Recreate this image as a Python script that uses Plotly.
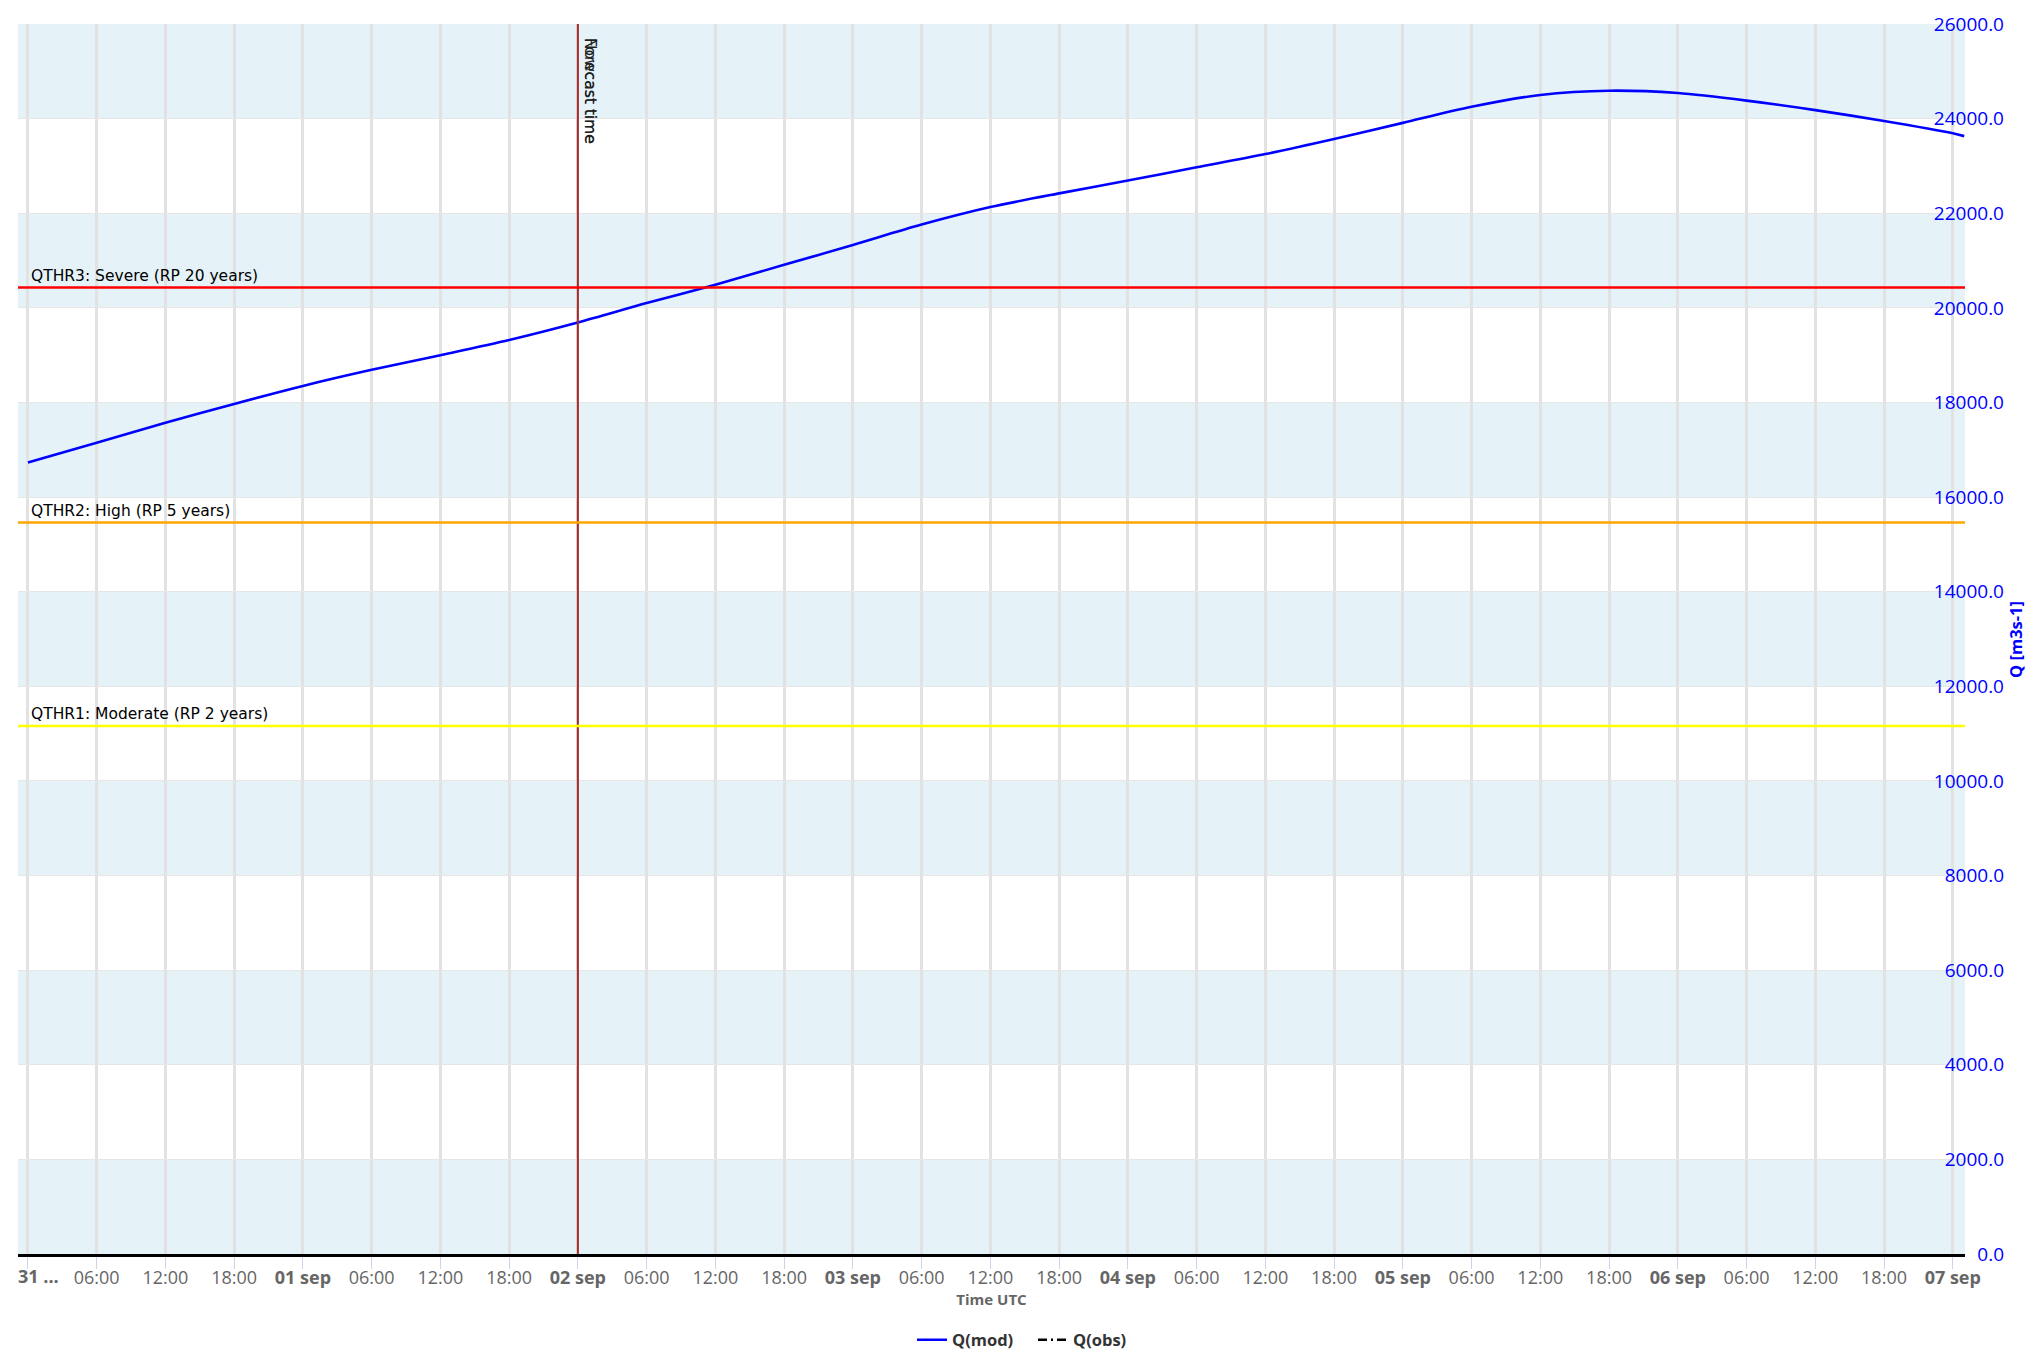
import plotly.graph_objects as go
import pandas as pd

# modelled discharge Q(mod), 6-hourly
TIMES = [
    "2024-08-31 00:00", "2024-08-31 06:00", "2024-08-31 12:00", "2024-08-31 18:00",
    "2024-09-01 00:00", "2024-09-01 06:00", "2024-09-01 12:00", "2024-09-01 18:00",
    "2024-09-02 00:00", "2024-09-02 06:00", "2024-09-02 12:00", "2024-09-02 18:00",
    "2024-09-03 00:00", "2024-09-03 06:00", "2024-09-03 12:00", "2024-09-03 18:00",
    "2024-09-04 00:00", "2024-09-04 06:00", "2024-09-04 12:00", "2024-09-04 18:00",
    "2024-09-05 00:00", "2024-09-05 06:00", "2024-09-05 12:00", "2024-09-05 18:00",
    "2024-09-06 00:00", "2024-09-06 06:00", "2024-09-06 12:00", "2024-09-06 18:00",
    "2024-09-07 00:00", "2024-09-07 01:00",
]
Q_MOD = [
    16730, 17150, 17570, 17970,
    18350, 18690, 19000, 19320,
    19690, 20100, 20490, 20910,
    21330, 21760, 22130, 22420,
    22690, 22970, 23250, 23570,
    23910, 24250, 24500, 24590,
    24540, 24380, 24180, 23950,
    23690, 23630,
]

# return-period thresholds
THR_NAMES = ["QTHR3: Severe (RP 20 years)", "QTHR2: High (RP 5 years)", "QTHR1: Moderate (RP 2 years)"]
THR_VALUES = [20430, 15460, 11160]
THR_COLORS = ["#ff0000", "#ffa500", "#ffff00"]

NOWCAST = "2024-09-02 00:00"
X_RANGE = ["2024-08-30 23:08", "2024-09-07 01:04"]

DAY_LABELS = ["31 ...", "01 sep", "02 sep", "03 sep", "04 sep", "05 sep", "06 sep", "07 sep"]
HOUR_LABELS = ["06:00", "12:00", "18:00"]
TICK_TIMES = pd.date_range("2024-08-31 00:00", "2024-09-07 00:00", freq="6h")
Y_TICKS = list(range(0, 26001, 2000))
BAND_STARTS = list(range(0, 26000, 4000))

# first label is drawn separately (nudged right, like the original)
ticktext = [""] + HOUR_LABELS
for d in DAY_LABELS[1:-1]:
    ticktext += [f"<b>{d}</b>"] + HOUR_LABELS
ticktext.append(f"<b>{DAY_LABELS[-1]}</b>")

fig = go.Figure()
fig.add_trace(go.Scatter(
    x=TIMES, y=Q_MOD, mode="lines", name="<b>Q(mod)</b>",
    line=dict(color="#0000ff", width=2.6, shape="spline", smoothing=0.8),
))
fig.add_trace(go.Scatter(
    x=[None], y=[None], mode="lines", name="<b>Q(obs)</b>",
    line=dict(color="#000000", width=2.5, dash="9px,4px,2px,4px"),
))

# alternating bands
for b in BAND_STARTS:
    fig.add_shape(type="rect", xref="x domain", yref="y", x0=0, x1=1, y0=b, y1=b + 2000,
                  fillcolor="#e5f3f9", line_width=0, layer="below")

# nowcast line + labels
fig.add_shape(type="line", xref="x", yref="y domain", x0=NOWCAST, x1=NOWCAST, y0=0, y1=1,
              line=dict(color="#a52a2a", width=2), layer="above")
for lab in ["Nowcast time", "Forecast time"]:
    fig.add_annotation(x=NOWCAST, xref="x", y=1, yref="y domain", text=lab, showarrow=False,
                       textangle=90, xanchor="left", yanchor="top", xshift=1, yshift=-12,
                       font=dict(family="DejaVu Sans", size=15.5, color="#222222"))

# threshold lines + labels
for name, val, col in zip(THR_NAMES, THR_VALUES, THR_COLORS):
    fig.add_shape(type="line", xref="x domain", yref="y", x0=0, x1=1, y0=val, y1=val,
                  line=dict(color=col, width=2.5), layer="above")
    fig.add_annotation(x=0, xref="x domain", y=val, yref="y", text=name, showarrow=False,
                       xanchor="left", yanchor="bottom", xshift=11, yshift=1,
                       font=dict(family="DejaVu Sans", size=15.5, color="#000000"))

# truncated first day label
fig.add_annotation(x=TICK_TIMES[0], xref="x", y=0, yref="y domain", text=f"<b>{DAY_LABELS[0]}</b>",
                   showarrow=False, xanchor="center", yanchor="middle", xshift=11, yshift=-22,
                   font=dict(family="Open Sans", size=18, color="#666666"))

# y axis title on the right
fig.add_annotation(x=0.9837, xref="paper", y=0.5, yref="paper", text="<b>Q [m3s-1]</b>",
                   showarrow=False, textangle=-90, xanchor="center", yanchor="middle",
                   font=dict(family="Open Sans", size=16.5, color="#0000ff"))

fig.update_layout(
    width=2040, height=1366,
    margin=dict(l=10, r=0, t=16, b=120),
    paper_bgcolor="white", plot_bgcolor="white",
    font=dict(family="Open Sans", color="#666666"),
    showlegend=True,
    legend=dict(orientation="h", x=0.5, xanchor="center", y=-0.07, yanchor="middle",
                font=dict(family="Open Sans", size=16.5, color="#333333"), itemwidth=30,
                entrywidth=76),
    xaxis=dict(
        type="date", range=X_RANGE, domain=[0, 0.95911], automargin=False,
        tickmode="array", tickvals=TICK_TIMES, ticktext=ticktext,
        tickfont=dict(family="Open Sans", size=18, color="#666666"),
        ticks="outside", ticklen=12, tickcolor="#ccd6eb", tickwidth=1,
        ticklabelstandoff=-6, ticklabeloverflow="allow",
        showgrid=True, gridcolor="#e2e2e2", gridwidth=2.5,
        showline=True, linecolor="#000000", linewidth=2.5,
        zeroline=False,
        title=dict(text="<b>Time UTC</b>", font=dict(family="Open Sans", size=15, color="#666666"), standoff=2),
    ),
    yaxis=dict(
        range=[0, 26000], anchor="free", position=0.97833, side="left", automargin=False,
        tickmode="array", tickvals=Y_TICKS, tickformat=".1f",
        tickfont=dict(family="Open Sans", size=19, color="#0000ff"),
        ticks="", showline=False, zeroline=False,
        showgrid=True, gridcolor="#e6e6e6", gridwidth=1,
    ),
)

fig.write_html("out.html")
